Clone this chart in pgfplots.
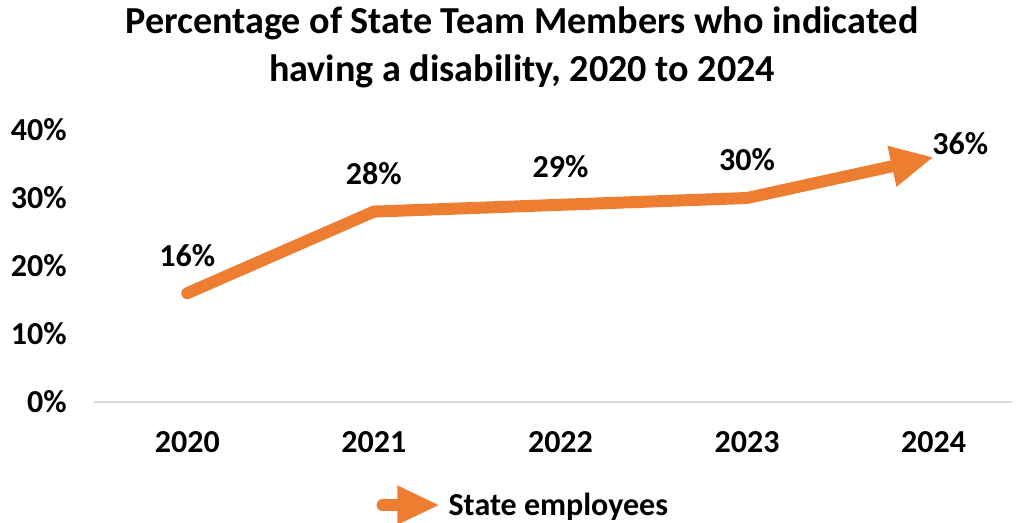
\documentclass[border=0pt]{standalone}
\usepackage{pgfplots}
\pgfplotsset{compat=1.18}
\usepackage{fontspec}
\setmainfont{Carlito}
\usetikzlibrary{arrows.meta}
\definecolor{orng}{HTML}{ED7D31}
\definecolor{basegray}{HTML}{D9D9D9}
\begin{document}
\begin{tikzpicture}[x=0.75pt,y=0.75pt]
\useasboundingbox (-94,-120) rectangle (927,402);
\begin{axis}[
  at={(0,0)}, anchor=south west,
  scale only axis,
  width=688.5pt, height=204pt,
  xmin=-0.5, xmax=4.42, ymin=0, ymax=40,
  xtick={0,1,2,3,4}, xticklabels={2020,2021,2022,2023,2024},
  ytick={0,10,20,30,40}, yticklabels={0\%,10\%,20\%,30\%,40\%},
  major tick length=0pt,
  axis line style={draw=none},
  ticklabel style={font=\bfseries\fontsize{24}{28}\selectfont, text=black},
  yticklabel style={anchor=east, xshift=-17pt},
  xticklabel style={anchor=center, yshift=-30pt},
  clip=false,
  legend style={at={(0.468,-0.379)}, anchor=center, draw=none, fill=none,
    font=\bfseries\fontsize{24}{28}\selectfont},
  legend cell align=left,
  legend image code/.code={%
    \draw[orng, line width=9pt, line cap=round, -{Triangle[length=32pt,width=27pt]}] (0pt,0pt) -- (43pt,0pt);},
]
\draw[basegray, line width=1.5pt] (axis cs:-0.5,0) -- (axis cs:4.42,0);
\addplot[orng, line width=9pt, line cap=round, line join=miter,
  -{Triangle[length=32pt,width=29pt]}]
  coordinates {(0,16) (1,28) (2,29) (3,30) (4,36)};
\addlegendentry{State employees}
\begin{scope}[every node/.style={font=\bfseries\fontsize{24}{28}\selectfont}]
\node at (axis cs:0,16) [yshift=28.5pt] {16\%};
\node at (axis cs:1,28) [yshift=28.5pt] {28\%};
\node at (axis cs:2,29) [yshift=28.5pt] {29\%};
\node at (axis cs:3,30) [yshift=28.5pt] {30\%};
\node at (axis cs:4,36) [xshift=20pt, yshift=10pt] {36\%};
\end{scope}
\end{axis}
\node[font=\bfseries\fontsize{28.6}{36}\selectfont, align=center] at (428,355) {Percentage of State Team Members who indicated\\having a disability, 2020 to 2024};
\end{tikzpicture}
\end{document}
